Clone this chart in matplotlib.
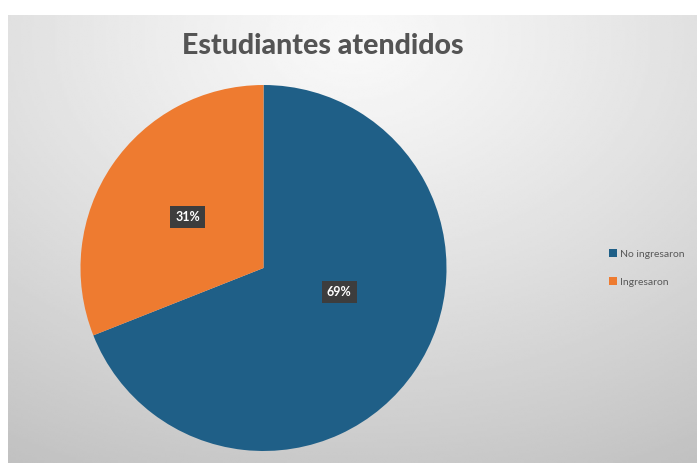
import numpy as np
import matplotlib
matplotlib.use('Agg')
import matplotlib.pyplot as plt
from matplotlib.patches import Patch

labels = ['No ingresaron', 'Ingresaron']
values = [69, 31]
colors = ['#1F5F87', '#EE7B30']
title = 'Estudiantes atendidos'

W, H = 697, 463
fig = plt.figure(figsize=(W / 100, H / 100), dpi=100)
fig.patch.set_facecolor('white')

# chart area with a soft radial gradient
bg = fig.add_axes([8 / W, 0, 1 - 8 / W, (H - 15) / H])
yy, xx = np.mgrid[0:1:200j, 0:1:300j]
r = np.sqrt(((xx - 0.5) / 1.0) ** 2 + ((yy - 0.05) / 1.1) ** 2)
shade = 0.975 - 0.22 * np.clip(r, 0, 1) ** 1.2
bg.imshow(shade, cmap='gray', vmin=0, vmax=1, aspect='auto',
          extent=[0, 1, 1, 0], interpolation='bilinear')
bg.set_axis_off()

# pie
cx, cy, rad = 263.5, H - 268, 183
ax = fig.add_axes([(cx - rad) / W, (cy - rad) / H, 2 * rad / W, 2 * rad / H])
wedges, texts, autotexts = ax.pie(values, colors=colors, startangle=90,
                                  counterclock=False, autopct='%1.0f%%',
                                  pctdistance=0.5, radius=1,
                                  wedgeprops=dict(linewidth=0))
for t in autotexts:
    t.set_color('white')
    t.set_fontsize(9)
    t.set_fontweight('bold')
    t.set_fontfamily('Lato')
    t.set_bbox(dict(boxstyle='square,pad=0.4', fc='#3d3d3d', ec='none'))
# Excel "best fit" puts the big label closer to the middle
x0, y0 = autotexts[0].get_position()
autotexts[0].set_position((x0, y0 * 0.47))
ax.set_xlim(-1, 1)
ax.set_ylim(-1, 1)
ax.set_aspect('auto')
ax.set_axis_off()

fig.text(323 / W, 1 - 46 / H, title, ha='center', va='center',
         fontsize=20.5, fontweight='black', color='#545454', family='Lato')

handles = [Patch(facecolor=c, edgecolor='none') for c in colors]
fig.legend(handles, labels, loc='center left', bbox_to_anchor=(600 / W, 1 - 268 / H),
           frameon=False, labelcolor='#595959',
           handlelength=0.7, handleheight=0.7, handletextpad=0.3,
           labelspacing=1.8, prop={'family': 'Lato', 'size': 7.5})

fig.savefig('out.png', dpi=100)
